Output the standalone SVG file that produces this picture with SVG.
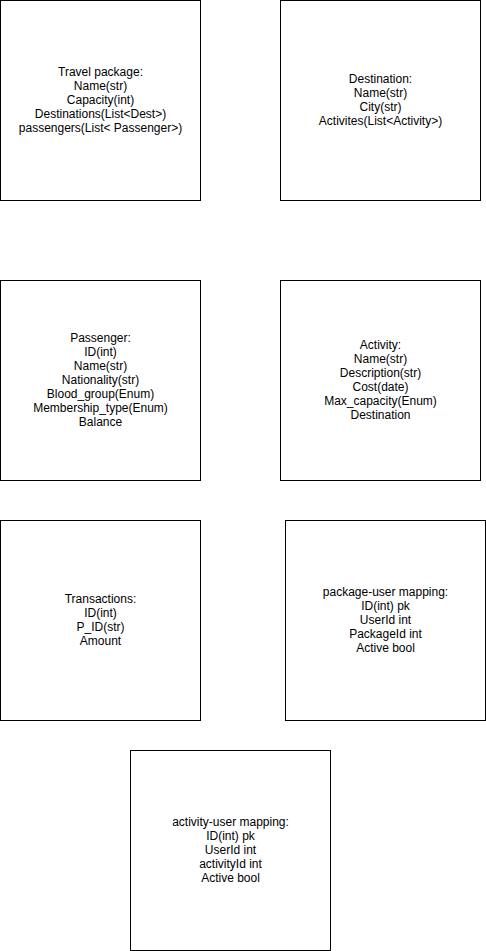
<svg xmlns="http://www.w3.org/2000/svg" width="486" height="951" viewBox="0 0 486 951">
<style>
.box{fill:#ffffff;stroke:#000000;stroke-width:1}
.t{font-family:"Liberation Sans",Arial,Helvetica,sans-serif;font-size:12px;fill:#000000;text-anchor:middle}
</style>
<rect x="0" y="0" width="486" height="951" fill="#ffffff"/>
<g id="connectors"></g>
<g id="travel-package">
<rect class="box" x="0.5" y="0.5" width="200" height="200"/>
<text class="t" x="100.5" y="76">Travel package:</text>
<text class="t" x="100.5" y="90">Name(str)</text>
<text class="t" x="100.5" y="104">Capacity(int)</text>
<text class="t" x="100.5" y="118">Destinations(List&lt;Dest&gt;)</text>
<text class="t" x="100.5" y="132">passengers(List&lt; Passenger&gt;)</text>
</g>
<g id="destination">
<rect class="box" x="280.5" y="0.5" width="200" height="200"/>
<text class="t" x="380.5" y="83">Destination:</text>
<text class="t" x="380.5" y="97">Name(str)</text>
<text class="t" x="380.5" y="111">City(str)</text>
<text class="t" x="380.5" y="125">Activites(List&lt;Activity&gt;)</text>
</g>
<g id="passenger">
<rect class="box" x="0.5" y="280.5" width="200" height="200"/>
<text class="t" x="100.5" y="342">Passenger:</text>
<text class="t" x="100.5" y="356">ID(int)</text>
<text class="t" x="100.5" y="370">Name(str)</text>
<text class="t" x="100.5" y="384">Nationality(str)</text>
<text class="t" x="100.5" y="398">Blood_group(Enum)</text>
<text class="t" x="100.5" y="412">Membership_type(Enum)</text>
<text class="t" x="100.5" y="426">Balance</text>
</g>
<g id="activity">
<rect class="box" x="280.5" y="280.5" width="200" height="200"/>
<text class="t" x="380.5" y="349">Activity:</text>
<text class="t" x="380.5" y="363">Name(str)</text>
<text class="t" x="380.5" y="377">Description(str)</text>
<text class="t" x="380.5" y="391">Cost(date)</text>
<text class="t" x="380.5" y="405">Max_capacity(Enum)</text>
<text class="t" x="380.5" y="419">Destination</text>
</g>
<g id="transactions">
<rect class="box" x="0.5" y="520.5" width="200" height="200"/>
<text class="t" x="100.5" y="603">Transactions:</text>
<text class="t" x="100.5" y="617">ID(int)</text>
<text class="t" x="100.5" y="631">P_ID(str)</text>
<text class="t" x="100.5" y="645">Amount</text>
</g>
<g id="package-user-mapping">
<rect class="box" x="285.5" y="520.5" width="200" height="200"/>
<text class="t" x="385.5" y="596">package-user mapping:</text>
<text class="t" x="385.5" y="610">ID(int) pk</text>
<text class="t" x="385.5" y="624">UserId int</text>
<text class="t" x="385.5" y="638">PackageId int</text>
<text class="t" x="385.5" y="652">Active bool</text>
</g>
<g id="activity-user-mapping">
<rect class="box" x="130.5" y="750.5" width="200" height="200"/>
<text class="t" x="230.5" y="826">activity-user mapping:</text>
<text class="t" x="230.5" y="840">ID(int) pk</text>
<text class="t" x="230.5" y="854">UserId int</text>
<text class="t" x="230.5" y="868">activityId int</text>
<text class="t" x="230.5" y="882">Active bool</text>
</g>
</svg>
